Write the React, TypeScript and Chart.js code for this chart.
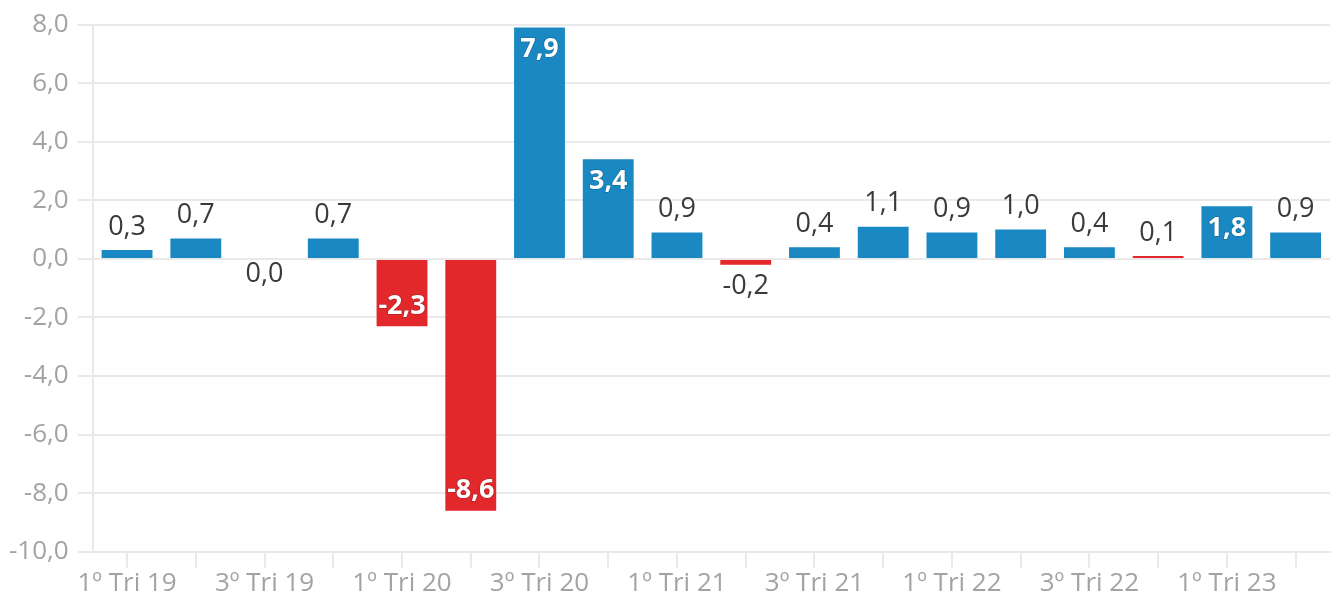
import React, { useEffect, useRef } from "react";
import { Chart, registerables } from "chart.js";

Chart.register(...registerables);

const categories = [
  "1º Tri 19", "2º Tri 19", "3º Tri 19", "4º Tri 19",
  "1º Tri 20", "2º Tri 20", "3º Tri 20", "4º Tri 20",
  "1º Tri 21", "2º Tri 21", "3º Tri 21", "4º Tri 21",
  "1º Tri 22", "2º Tri 22", "3º Tri 22", "4º Tri 22",
  "1º Tri 23", "2º Tri 23",
];

const values = [0.3, 0.7, 0.0, 0.7, -2.3, -8.6, 7.9, 3.4, 0.9, -0.2, 0.4, 1.1, 0.9, 1.0, 0.4, 0.1, 1.8, 0.9];

// categories shown in red besides the negative ones
const redCategories = ["4º Tri 22"];

const yTicks = [-10, -8, -6, -4, -2, 0, 2, 4, 6, 8];

const BLUE = "#1a89c3";
const RED = "#e2282b";
const GRID = "#e9e9e9";
const AXIS_TEXT = "#a3a3a3";
const FONT = "'Open Sans', 'Noto Sans', sans-serif";

const fmt = (v: number) => v.toFixed(1).replace(".", ",");

const labelPlugin = {
  id: "barLabels",
  afterDatasetsDraw(chart: any) {
    const ctx = chart.ctx;
    const meta = chart.getDatasetMeta(0);
    ctx.save();
    ctx.textAlign = "center";
    ctx.textBaseline = "middle";
    meta.data.forEach((bar: any, i: number) => {
      const v = values[i];
      const text = fmt(v);
      const { x, y, base } = bar.getProps(["x", "y", "base"], true);
      const inside = Math.abs(v) >= 1.5;
      let cy: number;
      if (inside) {
        cy = v > 0 ? y + 22 : y - 20;
        ctx.font = `700 27px ${FONT}`;
        ctx.lineWidth = 1.5;
        ctx.strokeStyle = "rgba(0,0,0,0.18)";
        ctx.strokeText(text, x, cy);
        ctx.fillStyle = "#ffffff";
        ctx.fillText(text, x, cy);
      } else {
        if (v > 0) cy = y - 23;
        else if (v < 0) cy = y + 22;
        else cy = base + 15;
        ctx.font = `400 27px ${FONT}`;
        ctx.fillStyle = "#3a3a3a";
        ctx.fillText(text, x, cy);
      }
    });
    ctx.restore();
  },
};

export default function App() {
  const ref = useRef<HTMLCanvasElement | null>(null);

  useEffect(() => {
    if (!ref.current) return;
    const colors = values.map((v, i) =>
      v < 0 || redCategories.includes(categories[i]) ? RED : BLUE
    );
    const chart = new Chart(ref.current, {
      type: "bar",
      data: {
        labels: categories,
        datasets: [
          {
            data: values,
            backgroundColor: colors,
            borderWidth: 0,
            barPercentage: 0.74,
            categoryPercentage: 1,
          },
        ],
      },
      options: {
        animation: false,
        responsive: true,
        maintainAspectRatio: false,
        layout: { padding: { left: 0, right: 9, top: 0, bottom: 2 } },
        plugins: {
          legend: { display: false },
          tooltip: { enabled: false },
        },
        scales: {
          x: {
            grid: {
              offset: false,
              drawOnChartArea: false,
              drawTicks: true,
              tickLength: 16,
              color: GRID,
              lineWidth: 2,
            },
            border: { display: true, color: GRID, width: 2 },
            ticks: {
              autoSkip: false,
              maxRotation: 0,
              minRotation: 0,
              padding: 0,
              color: AXIS_TEXT,
              font: { family: FONT, size: 26 },
              callback: (_v: any, i: number) => (i % 2 === 0 ? categories[i] : ""),
            },
          },
          y: {
            min: yTicks[0],
            max: yTicks[yTicks.length - 1],
            afterBuildTicks: (axis: any) => {
              axis.ticks = yTicks.map((value) => ({ value }));
            },
            grid: {
              color: GRID,
              lineWidth: 2,
              drawTicks: true,
              tickLength: 15,
            },
            border: { display: true, color: GRID, width: 2 },
            ticks: {
              padding: 9,
              color: AXIS_TEXT,
              font: { family: FONT, size: 26 },
              callback: (v: any) => fmt(Number(v)),
            },
          },
        },
      },
      plugins: [labelPlugin],
    });
    return () => chart.destroy();
  }, []);

  return (
    <div style={{ position: "fixed", left: 0, top: 0, width: "1339px", height: "601px", background: "#fff" }}>
      <canvas ref={ref} />
    </div>
  );
}
